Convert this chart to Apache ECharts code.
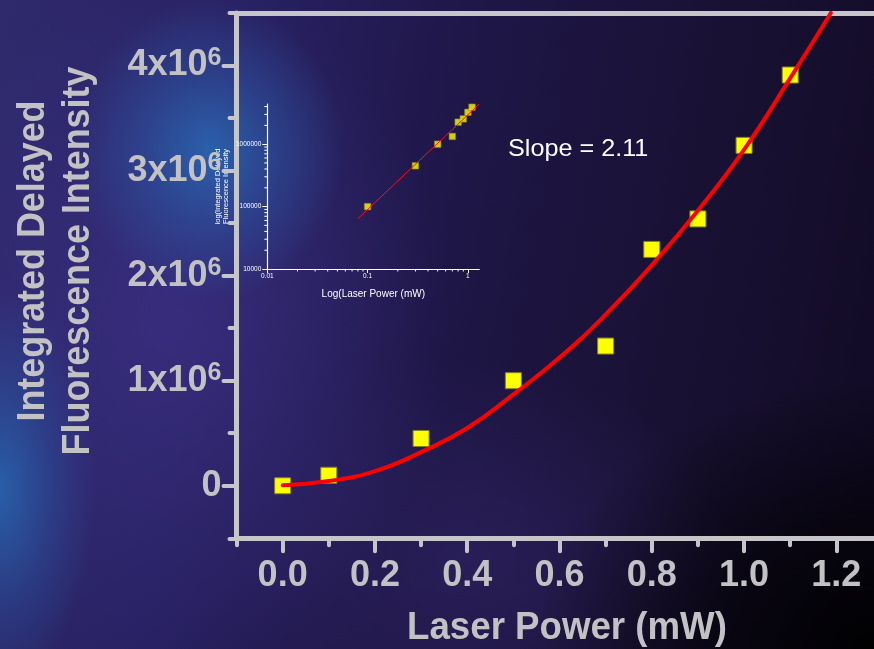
<!DOCTYPE html>
<html>
<head>
<meta charset="utf-8">
<title>Delayed fluorescence vs laser power</title>
<script src="https://cdn.jsdelivr.net/npm/echarts@6/dist/echarts.min.js"></script>
<style>
  html, body { margin: 0; padding: 0; width: 874px; height: 649px; overflow: hidden; background: #1d1545; }
  #chart {
    width: 874px; height: 649px;
    background:
      radial-gradient(ellipse 135px 150px at 210px 150px, rgba(42,110,185,0.8) 0%, rgba(42,100,178,0.42) 50%, rgba(42,90,170,0) 100%),
      radial-gradient(ellipse 95px 200px at 0px 490px, rgba(40,100,175,0.9) 0%, rgba(40,90,168,0.4) 55%, rgba(40,80,160,0) 100%),
      radial-gradient(ellipse 280px 350px at 170px 320px, rgba(60,48,132,0.75) 0%, rgba(60,48,132,0) 100%),
      radial-gradient(ellipse 340px 270px at 874px 649px, rgba(0,0,0,0.97) 0%, rgba(0,0,0,0.55) 50%, rgba(0,0,0,0) 100%),
      radial-gradient(ellipse 260px 200px at 470px 560px, rgba(46,34,98,0.7) 0%, rgba(46,34,98,0) 100%),
      linear-gradient(100deg, #2f2a6c 0%, #282163 25%, #1e1646 50%, #191133 75%, #110a24 100%);
  }
</style>
</head>
<body>
<div id="chart"></div>
<script>
// Measured delayed fluorescence versus excitation power
const powerMW   = [0, 0.1, 0.3, 0.5, 0.7, 0.8, 0.9, 1.0, 1.1];
const intensity = [0, 1.0e5, 4.5e5, 1.0e6, 1.33e6, 2.25e6, 2.54e6, 3.24e6, 3.91e6];

// Fitted curve through the linear-scale data
const fitPowerMW   = [0, 0.1, 0.2, 0.3, 0.4, 0.5, 0.6, 0.7, 0.8, 0.9, 1.0, 1.1, 1.188];
const fitIntensity = [5e3, 4.5e4, 1.4e5, 3.2e5, 5.5e5, 8.7e5, 1.22e6, 1.63e6, 2.1e6, 2.62e6, 3.2e6, 3.88e6, 4.5e6];

// Straight fit on the log-log inset
const logFitPowerMW   = [0.08, 1.3];
const logFitIntensity = [6.4e4, 4.4e6];

// Log-axis minor tick values of the inset
const insetXMinor = [0.02, 0.03, 0.04, 0.05, 0.06, 0.07, 0.08, 0.09, 0.2, 0.3, 0.4, 0.5, 0.6, 0.7, 0.8, 0.9];
const insetYMinor = [2e4, 3e4, 4e4, 5e4, 6e4, 7e4, 8e4, 9e4, 2e5, 3e5, 4e5, 5e5, 6e5, 7e5, 8e5, 9e5, 2e6, 3e6, 4e6];

const xTitle = 'Laser Power (mW)';
const yTitle = 'Integrated Delayed\nFluorescence Intensity';
const insetXTitle = 'Log(Laser Power (mW)';
const insetYTitle = 'log(Integrated Delayed\nFluorescence Intensity';
const slopeText = 'Slope = 2.11';

const FONT = "'Liberation Sans', Arial, Helvetica, sans-serif";
const GREY = '#c2c2c4';
const AXIS = '#c6c6ca';

const pairs = (xs, ys) => xs.map((x, i) => [x, ys[i]]);

const chart = echarts.init(document.getElementById('chart'), null, { renderer: 'canvas' });

const mainAxisLine = { show: true, onZero: false, lineStyle: { color: AXIS, width: 5, cap: 'round' } };
const shortTick = { show: true, inside: false, length: 7, lineStyle: { color: AXIS, width: 4, cap: 'round' } };
const longTick = { show: true, splitNumber: 2, length: 13, lineStyle: { color: AXIS, width: 4, cap: 'round' } };

const option = {
  backgroundColor: 'transparent',
  animation: false,
  grid: [
    // the main plot runs past the right edge of the canvas
    { left: 236.5, top: 13, width: 646, height: 525.3, containLabel: false, outerBoundsMode: 'none' },
    { left: 267.3, top: 104, width: 212, height: 165, containLabel: false, outerBoundsMode: 'none' }
  ],
  xAxis: [
    { // main axis: line and ticks
      type: 'value', gridIndex: 0, position: 'bottom', min: -0.1, max: 1.3, interval: 0.2,
      axisLine: mainAxisLine, axisTick: shortTick, minorTick: longTick,
      axisLabel: { show: false }, splitLine: { show: false }, minorSplitLine: { show: false }
    },
    { // main axis: labels
      type: 'value', gridIndex: 0, position: 'bottom', min: -0.1, max: 1.3, interval: 0.1,
      axisLine: { show: false, onZero: false }, axisTick: { show: false }, splitLine: { show: false },
      axisLabel: {
        margin: 20, color: GREY, fontSize: 36, fontWeight: 'bold', fontFamily: FONT,
        showMinLabel: true, showMaxLabel: true,
        formatter: v => {
          const n = Math.round(v * 10);
          return (n >= 0 && n % 2 === 0) ? (n / 10).toFixed(1) : '';
        }
      }
    },
    { // frame line along the top
      type: 'value', gridIndex: 0, position: 'top', min: -0.1, max: 1.3,
      axisLine: mainAxisLine, axisTick: { show: false }, axisLabel: { show: false }, splitLine: { show: false }
    },
    { // inset log axis
      type: 'log', logBase: 10, gridIndex: 1, position: 'bottom', min: 0.01, max: 1.3,
      axisLine: { show: true, onZero: false, lineStyle: { color: '#ffffff', width: 1.2 } },
      axisTick: { show: true, length: 4, lineStyle: { color: '#ffffff', width: 1 } },
      splitLine: { show: false },
      axisLabel: { margin: 4, color: '#ffffff', fontSize: 6.5, fontFamily: FONT, showMaxLabel: false, formatter: v => String(v) },
      name: insetXTitle, nameLocation: 'middle', nameGap: 20,
      nameTextStyle: { color: '#ffffff', fontSize: 10, fontFamily: FONT }
    }
  ],
  yAxis: [
    { // main axis: line and ticks
      type: 'value', gridIndex: 0, position: 'left', min: -0.5e6, max: 4.5e6, interval: 1e6,
      axisLine: mainAxisLine, axisTick: shortTick, minorTick: longTick,
      axisLabel: { show: false }, splitLine: { show: false }, minorSplitLine: { show: false }
    },
    { // main axis: labels
      type: 'value', gridIndex: 0, position: 'left', min: -0.5e6, max: 4.5e6, interval: 0.5e6,
      axisLine: { show: false, onZero: false }, axisTick: { show: false }, splitLine: { show: false },
      axisLabel: {
        margin: 15, color: GREY, fontFamily: FONT,
        formatter: v => {
          const n = Math.round(v / 1e5);
          if (n < 0 || n % 10 !== 0) return '';
          const k = n / 10;
          return k === 0 ? '{b|0}' : '{b|' + k + 'x10}{s|6}';
        },
        rich: {
          b: { fontSize: 36, fontWeight: 'bold', color: GREY, fontFamily: FONT, lineHeight: 40 },
          s: { fontSize: 25, fontWeight: 'bold', color: GREY, fontFamily: FONT, lineHeight: 26, verticalAlign: 'top' }
        }
      }
    },
    { // inset log axis
      type: 'log', logBase: 10, gridIndex: 1, position: 'left', min: 1e4, max: 4.4e6,
      axisLine: { show: true, onZero: false, lineStyle: { color: '#ffffff', width: 1.2 } },
      axisTick: { show: true, length: 5, lineStyle: { color: '#ffffff', width: 1 } },
      splitLine: { show: false },
      axisLabel: { margin: 6, color: '#ffffff', fontSize: 6.5, fontFamily: FONT, showMaxLabel: false, formatter: v => String(Math.round(v)) },
      name: insetYTitle, nameLocation: 'middle', nameGap: 37, nameRotate: 90,
      nameTextStyle: { color: '#ffffff', fontSize: 7.5, lineHeight: 8, fontFamily: FONT, align: 'center' }
    }
  ],
  series: [
    {
      name: 'data', type: 'scatter', xAxisIndex: 0, yAxisIndex: 0,
      data: pairs(powerMW, intensity),
      symbol: 'rect', symbolSize: 16, z: 3,
      itemStyle: { color: '#ffff00', borderColor: '#86841e', borderWidth: 1, opacity: 1 }
    },
    {
      name: 'fit', type: 'line', xAxisIndex: 0, yAxisIndex: 0,
      data: pairs(fitPowerMW, fitIntensity),
      smooth: true, showSymbol: false, symbol: 'none', z: 4,
      lineStyle: { color: '#ff0000', width: 4, cap: 'round' }
    },
    {
      name: 'inset data', type: 'scatter', xAxisIndex: 3, yAxisIndex: 2,
      data: pairs(powerMW, intensity).filter(p => p[0] > 0),
      symbol: 'rect', symbolSize: 6.5, z: 3,
      itemStyle: { color: '#ffff00', borderColor: '#86841e', borderWidth: 0.7 }
    },
    {
      name: 'inset fit', type: 'line', xAxisIndex: 3, yAxisIndex: 2,
      data: pairs(logFitPowerMW, logFitIntensity),
      showSymbol: false, symbol: 'none', z: 4,
      lineStyle: { color: '#ff1010', width: 1 }
    },
    {
      name: 'inset x minor ticks', type: 'custom', xAxisIndex: 3, yAxisIndex: 2,
      data: insetXMinor.map(v => [v, 1e4]), clip: false, silent: true,
      renderItem: (params, api) => {
        const p = api.coord([api.value(0), api.value(1)]);
        return { type: 'line', shape: { x1: p[0], y1: p[1], x2: p[0], y2: p[1] + 2.5 }, style: { stroke: '#ffffff', lineWidth: 1 } };
      }
    },
    {
      name: 'inset y minor ticks', type: 'custom', xAxisIndex: 3, yAxisIndex: 2,
      data: insetYMinor.map(v => [0.01, v]), clip: false, silent: true,
      renderItem: (params, api) => {
        const p = api.coord([api.value(0), api.value(1)]);
        return { type: 'line', shape: { x1: p[0], y1: p[1], x2: p[0] - 3, y2: p[1] }, style: { stroke: '#ffffff', lineWidth: 1 } };
      }
    }
  ],
  graphic: [
    {
      type: 'text', x: 567, y: 628, scaleX: 0.94, silent: true,
      style: { text: xTitle, fill: GREY, font: 'bold 39px ' + FONT, align: 'center', verticalAlign: 'middle' }
    },
    {
      type: 'text', x: 56, y: 261, rotation: Math.PI / 2, scaleX: 0.92, silent: true,
      style: { text: yTitle, fill: GREY, font: 'bold 39px ' + FONT, lineHeight: 45, align: 'center', verticalAlign: 'middle' }
    },
    {
      type: 'text', x: 508, y: 149, scaleX: 1.05, silent: true,
      style: { text: slopeText, fill: '#ffffff', font: '24px ' + FONT, align: 'left', verticalAlign: 'middle' }
    }
  ]
};

chart.setOption(option);
</script>
</body>
</html>
